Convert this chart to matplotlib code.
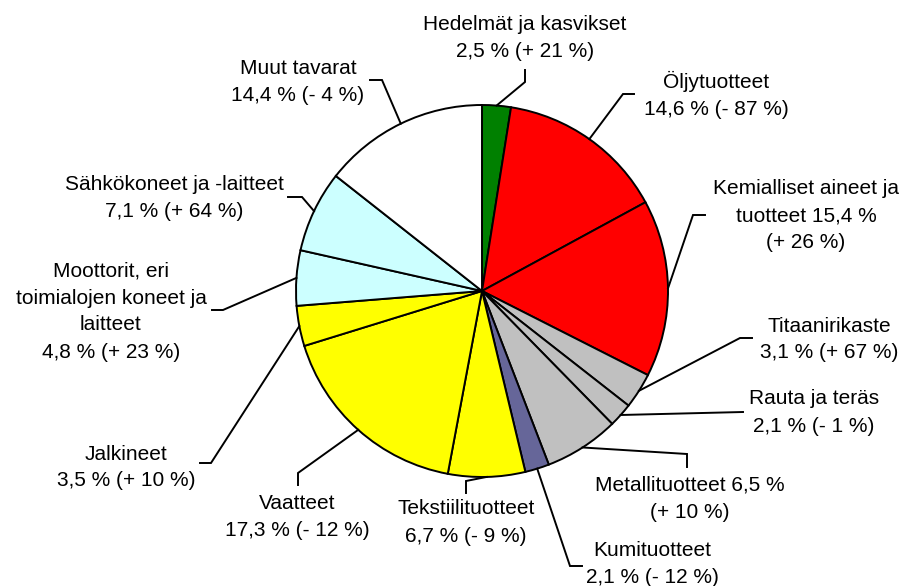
import matplotlib
matplotlib.use("Agg")
import matplotlib.pyplot as plt
import numpy as np

# ---- data ----
categories = [
    "Hedelmät ja kasvikset", "Öljytuotteet", "Kemialliset aineet ja\ntuotteet",
    "Titaanirikaste", "Rauta ja teräs", "Metallituotteet", "Kumituotteet",
    "Tekstiilituotteet", "Vaatteet", "Jalkineet",
    "Moottorit, eri\ntoimialojen koneet ja\nlaitteet", "Sähkökoneet ja -laitteet",
    "Muut tavarat",
]
shares = [2.5, 14.6, 15.4, 3.1, 2.1, 6.5, 2.1, 6.7, 17.3, 3.5, 4.8, 7.1, 14.4]
changes = ["+ 21", "- 87", "+ 26", "+ 67", "- 1", "+ 10", "- 12", "- 9", "- 12",
           "+ 10", "+ 23", "+ 64", "- 4"]
colors = ["#008000", "#FF0000", "#FF0000", "#C0C0C0", "#C0C0C0", "#C0C0C0",
          "#666699", "#FFFF00", "#FFFF00", "#FFFF00", "#CCFFFF", "#CCFFFF",
          "#FFFFFF"]

# label layout: format style, text block centre (px), leader elbow and end (px)
styles = ["nl", "nl", "sp", "nl", "nl", "sp", "nl", "nl", "nl", "nl", "nl", "nl", "nl"]
text_pos = [(525, 36), (716, 94), (806, 214), (829, 338), (814, 411), (690, 497),
            (652, 563), (466, 521), (297, 516), (126, 466), (111, 310),
            (174, 196), (298, 80)]
elbows = [(525, 82), (623, 94), (693, 215), (740, 338), (743, 412), (687, 454),
          (570, 566), (466, 481), (298, 473), (211, 463), (223, 310),
          (302, 197), (382, 80)]
ends = [(525, 70), (634, 94), (705, 215), (752, 338), (743, 412), (687, 467),
        (582, 566), (466, 493), (298, 485), (200, 463), (212, 310),
        (288, 197), (370, 80)]

W, H = 903, 586
CX, CY, R = 482, 291, 186
PITCH = 27
FS = 15

plt.rcParams['font.family'] = ['Liberation Sans', 'DejaVu Sans']

fig = plt.figure(figsize=(W / 100, H / 100), dpi=100)
ax = fig.add_axes([0, 0, 1, 1])

ax.pie(shares, colors=colors, startangle=90, counterclock=False,
       center=(CX, H - CY), radius=R,
       wedgeprops=dict(edgecolor="black", linewidth=1.4))
ax.set_xlim(0, W)
ax.set_ylim(0, H)
ax.set_aspect('equal')
ax.axis('off')

def fmt(v):
    return ("%.1f" % v).replace(".", ",")

total = sum(shares)
cum = 0.0
for i, v in enumerate(shares):
    mid = (cum + v / 2) / total * 360.0
    cum += v
    # rim anchor, clockwise from 12 o'clock
    ax_x = CX + R * np.sin(np.radians(mid))
    ax_y = CY - R * np.cos(np.radians(mid))
    ex, ey = elbows[i]
    nx, ny = ends[i]
    ax.plot([ax_x, ex, nx], [H - ax_y, H - ey, H - ny], color="black",
            lw=1.4, solid_joinstyle="miter", zorder=3)
    if styles[i] == "nl":
        txt = "%s\n%s %% (%s %%)" % (categories[i], fmt(v), changes[i])
    else:
        txt = "%s %s %%\n(%s %%)" % (categories[i], fmt(v), changes[i])
    lines = txt.split("\n")
    n = len(lines)
    tx, ty = text_pos[i]
    for k, line in enumerate(lines):
        ly = ty + (k - (n - 1) / 2) * PITCH
        ax.text(tx, H - (ly + 7), line, ha="center", va="baseline",
                fontsize=FS, color="#000000")

fig.savefig("out.png", dpi=100)
